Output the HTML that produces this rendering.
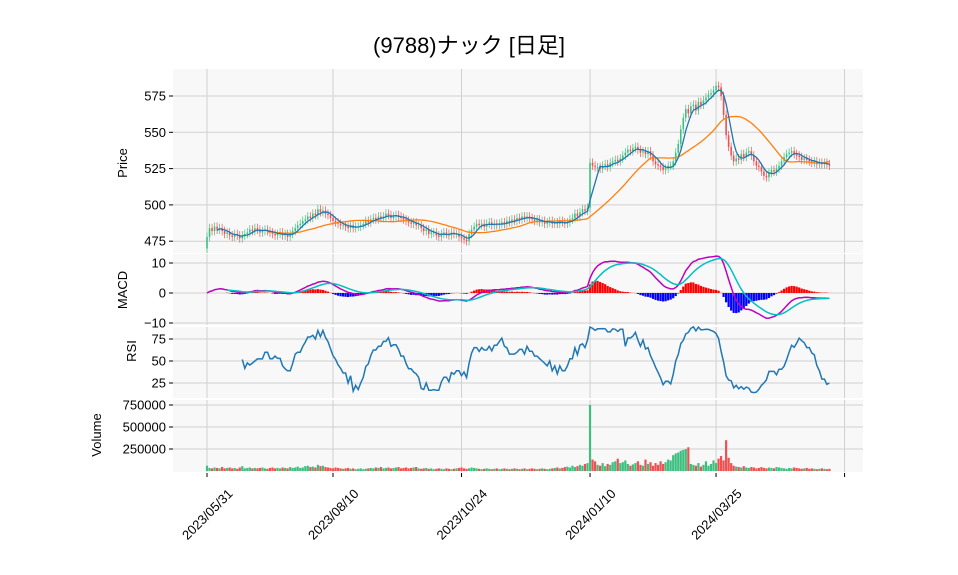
<!DOCTYPE html>
<html><head><meta charset="utf-8"><style>
body{margin:0;background:#fff;}
svg{display:block;font-family:"Liberation Sans","Noto Sans CJK JP",sans-serif;}
</style></head><body>
<svg id="chart" width="958" height="575" viewBox="0 0 958 575">
<text x="469" y="53" font-size="22" text-anchor="middle" fill="#000">(9788)ナック  [日足]</text>
<g id="panels"></g>
</svg>
<script>
const closes = [478,484,482,485,483,
484,482,480,481,479,478,480,479,477,479,
480,481,483,482,484,483,481,482,483,482,
481,480,479,480,481,479,480,478,480,
482,484,486,487,489,490,492,491,494,493,497,495,
496,494,493,491,489,488,487,486,486,
485,484,486,484,485,485,
486,487,489,488,490,491,490,492,491,492,
494,493,491,492,493,492,
491,490,489,488,487,488,486,486,
484,482,483,480,481,481,
479,478,480,481,480,479,481,480,480,
478,477,476,475,
480,483,485,487,486,487,
485,487,488,486,487,486,487,
488,487,489,488,490,489,491,490,492,491,492,
491,490,489,490,488,489,487,488,489,
487,488,487,489,488,487,488,
490,491,494,492,495,497,496,498,
529,527,526,526,
525,527,528,526,529,530,531,
530,532,534,536,538,537,539,
540,538,536,537,535,537,
534,530,528,527,526,524,525,527,527,
530,536,542,552,560,
566,563,568,569,565,571,569,
572,574,576,577,579,582,581,
575,562,548,540,
534,530,532,531,535,533,536,537,
534,530,527,526,523,520,519,522,
524,523,525,527,530,533,535,536,
537,535,534,533,531,532,531,
530,529,530,528,529,528,529,528,527];
const volumesK = [60,35,30,40,35,30,45,30,35,40,30,35,25,40,55,30,35,40,30,35,
30,35,40,30,25,35,40,30,35,30,40,35,30,45,35,40,50,35,40,55,
60,45,50,40,70,55,60,45,40,35,30,40,35,30,25,30,35,25,30,20,
25,30,20,25,30,35,30,40,35,45,30,35,40,30,35,40,45,30,35,40,
30,35,40,45,30,25,30,35,25,30,20,25,30,25,20,30,25,20,25,30,
35,40,30,25,30,40,35,30,25,20,25,30,25,20,25,30,20,25,30,25,
20,25,30,25,20,25,30,20,25,30,25,20,25,30,25,20,25,30,35,40,
30,35,45,50,40,60,45,55,70,60,80,90,750,130,110,70,60,90,55,80,
70,100,110,140,90,100,120,80,60,75,90,110,70,60,130,80,100,60,90,70,
110,80,100,130,120,180,200,210,230,240,250,270,80,70,60,90,50,70,110,60,
80,120,90,140,170,120,350,150,90,60,50,45,40,55,40,35,45,40,30,35,
45,35,30,40,35,30,45,40,35,30,25,35,30,40,35,30,25,30,35,25,
30,25,20,25,30,25,20,25];
const firstOpen = 470;
const dateLabels = ["2023/05/31","2023/08/10","2023/10/24","2024/01/10","2024/03/25",""];
const dateIdx = [0,50,101,152,202,253];
const priceTicks = [475,500,525,550,575];
const macdTicks = [-10,0,10];
const rsiTicks = [25,50,75];
const volTicks = [250000,500000,750000];

const NS="http://www.w3.org/2000/svg";
const root=document.getElementById('panels');
function mk(tag,attrs,parent){const e=document.createElementNS(NS,tag);for(const k in attrs)e.setAttribute(k,attrs[k]);(parent||root).appendChild(e);return e;}
const xs=i=>207+i*2.52;
const yP=v=>96+(575-v)*1.452;
const yM=v=>293-v*3;
const yR=v=>361-(v-50)*0.88;
const yV=v=>471-v*22/250000;
const panels=[[69,253,'price-panel'],[254,325,'macd-panel'],[327,398,'rsi-panel'],[400,472,'volume-panel']];
panels.forEach(p=>{const r=mk('rect',{x:173,y:p[0],width:690,height:p[1]-p[0],fill:'#f8f8f8'});

});
dateIdx.forEach((di,k)=>{const x=xs(di);
panels.forEach(p=>mk('line',{x1:x,x2:x,y1:p[0],y2:p[1],stroke:'#d0d0d0','stroke-width':1}));
const t=mk('line',{x1:x,x2:x,y1:473,y2:477,stroke:'#000'});


if(dateLabels[k]){const tx=mk('text',{x:x,y:519,'font-size':13,'text-anchor':'middle',transform:`rotate(-45 ${x} 514)`});tx.textContent=dateLabels[k];

}
});
function yticks(ticks,f,fmt){ticks.forEach(v=>{const y=f(v);
mk('line',{x1:173,x2:863,y1:y,y2:y,stroke:'#d0d0d0'});
mk('line',{x1:169,x2:173,y1:y,y2:y,stroke:'#000'});
const t=mk('text',{x:166,y:y+4.5,'font-size':13,'text-anchor':'end'});t.textContent=fmt(v);

});}
yticks(priceTicks,yP,v=>v);
yticks(macdTicks,yM,v=>v<0?'\u2212'+(-v):v);
yticks(rsiTicks,yR,v=>v);
yticks(volTicks,yV,v=>v);
[['Price',127,163],['MACD',127,290],['RSI',136,351],['Volume',101,435]].forEach(a=>{
const t=mk('text',{x:a[1],y:a[2],'font-size':13,'text-anchor':'middle',transform:`rotate(-90 ${a[1]} ${a[2]})`});t.textContent=a[0];

});
const G='#3dbf7f',R='#f05050';
const n=closes.length;
for(let i=0;i<n;i++){const o=i?closes[i-1]:firstOpen,c=closes[i];const col=c>=o?G:R;const x=xs(i);
const hi=Math.max(o,c)+3,lo=Math.min(o,c)-3;
const w=mk('line',{x1:x,x2:x,y1:yP(hi),y2:yP(lo),stroke:col,'stroke-width':0.7});


const b=mk('rect',{x:x-0.8,y:yP(Math.max(o,c)),width:1.6,height:Math.max(0.8,Math.abs(yP(o)-yP(c))),fill:col});


const v=volumesK[i]*1000;
const vb=mk('rect',{x:x-1.1,y:yV(v),width:2.2,height:471-yV(v),fill:col});

}
function sma(a,k){return a.map((_,i)=>i<k-1?null:a.slice(i-k+1,i+1).reduce((s,v)=>s+v,0)/k);}
function ema(a,k){const al=2/(k+1);let e=null;return a.map(v=>{if(v==null)return null;e=e==null?v:e+al*(v-e);return e;});}
function path(a,f,col,name,w){let d='';a.forEach((v,i)=>{if(v==null)return;d+=(d?'L':'M')+xs(i).toFixed(1)+','+f(v).toFixed(1);});
const p=mk('path',{d:d,fill:'none',stroke:col,'stroke-width':w||1.3});

}
path(sma(closes,25),yP,'#ff7f0e','ma-long');
path(sma(closes,5),yP,'#1f77b4','ma-short');
const e12=ema(closes,12),e26=ema(closes,26);
const macd=closes.map((_,i)=>e12[i]-e26[i]);
const sig=ema(macd,9);
macd.forEach((m,i)=>{if(i<8)return;const h=m-sig[i];const y0=yM(0),y1=yM(h);
const r=mk('rect',{x:xs(i)-1.1,y:Math.min(y0,y1),width:2.2,height:Math.abs(y1-y0),fill:h>=0?'#ff0000':'#0000ff'});

});
path(macd,yM,'#c000c0','macd-line',1.5);
path(sig.map((v,i)=>i<8?null:v),yM,'#00c0c0','signal-line',1.5);
const rsi=closes.map((_,i)=>{if(i<14)return null;let g=0,l=0;for(let j=i-13;j<=i;j++){const d=closes[j]-closes[j-1];if(d>0)g+=d;else l-=d;}return g+l===0?50:100*g/(g+l);});
path(rsi,yR,'#1f77b4','rsi-line',1.5);
</script>
</body></html>
